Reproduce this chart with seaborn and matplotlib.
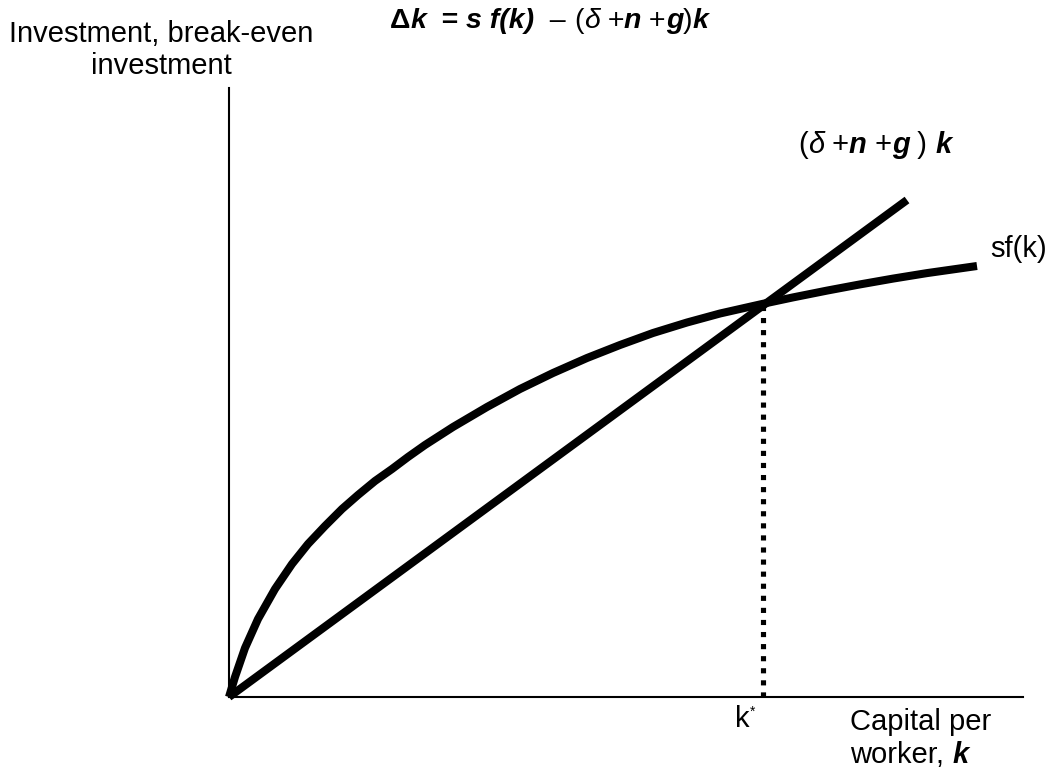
import numpy as np
import pandas as pd
import matplotlib
matplotlib.use("Agg")
import matplotlib.pyplot as plt
import seaborn as sns

# ---- data (arbitrary units, 1 unit = 100 px) ----
sf_k = [0.00, 0.06, 0.16, 0.29, 0.46, 0.63, 0.79, 0.96, 1.13, 1.29, 1.46, 1.63, 1.79,
        1.96, 2.24, 2.58, 2.91, 3.24, 3.58, 3.91, 4.24, 4.58, 4.91, 5.33, 5.64, 5.98,
        6.31, 6.64, 6.98, 7.48]
sf_y = [0.00, 0.20, 0.49, 0.78, 1.08, 1.33, 1.53, 1.71, 1.88, 2.02, 2.16, 2.28, 2.40,
        2.52, 2.70, 2.90, 3.08, 3.24, 3.39, 3.52, 3.64, 3.745, 3.835, 3.93, 3.996, 4.064,
        4.126, 4.184, 4.239, 4.31]
be_k = [0.00, 6.78]
be_y = [0.00, 4.97]
k_star = 5.34
k_star_y = 3.92
x_max = 7.94
y_max = 6.09

sns.set_theme(style="white")
plt.rcParams["font.family"] = ["Liberation Sans", "DejaVu Sans"]

W, H = 1049, 769
fig = plt.figure(figsize=(W / 100, H / 100), dpi=100)
ax = fig.add_axes([229 / W, 1 - 697 / H, (1023 - 229) / W, (697 - 88) / H])

df_sf = pd.DataFrame({"k": sf_k, "y": sf_y})
df_be = pd.DataFrame({"k": be_k, "y": be_y})
lw = 5.8
sns.lineplot(data=df_sf, x="k", y="y", color="black", linewidth=lw, sort=False,
             estimator=None, ax=ax, clip_on=False, solid_capstyle="butt",
             solid_joinstyle="round")
sns.lineplot(data=df_be, x="k", y="y", color="black", linewidth=lw, sort=False,
             estimator=None, ax=ax, clip_on=False, solid_capstyle="butt")
ax.plot([k_star, k_star], [0, k_star_y], color="black", linewidth=3.7,
        linestyle=(0, (1.0, 1.35)), dash_capstyle="butt")

ax.set_xlim(0, x_max)
ax.set_ylim(0, y_max)
ax.set_xticks([])
ax.set_yticks([])
ax.set_xlabel("")
ax.set_ylabel("")
for s in ["top", "right"]:
    ax.spines[s].set_visible(False)
for s in ["left", "bottom"]:
    ax.spines[s].set_color("black")
    ax.spines[s].set_linewidth(1.5)
ax.patch.set_alpha(0)


def fx(px):
    return px / W


def fy(py):
    return 1 - py / H


def chain(x, y, pieces, size):
    """pieces: list of (text, weight, style)"""
    t, w, st = pieces[0]
    prev = fig.text(fx(x), fy(y), t, fontsize=size, fontweight=w, fontstyle=st,
                    va="baseline", ha="left", color="black")
    for t, w, st in pieces[1:]:
        prev = ax.annotate(t, xy=(1, 0), xycoords=prev, va="bottom", ha="left",
                           fontsize=size, fontweight=w, fontstyle=st, color="black",
                           annotation_clip=False)
    return prev


N, B = "normal", "bold"
I = "italic"
FS = 21

# y-axis label
fig.text(fx(161), fy(42), "Investment, break-even", fontsize=FS, ha="center",
         va="baseline", color="black")
fig.text(fx(161), fy(74), "investment", fontsize=FS, ha="center", va="baseline",
         color="black")

# title formula
chain(390, 28, [("Δ", B, N), ("k", B, I), ("  = ", B, N), ("s f(k)", B, I),
                ("  – ", N, N), ("(", N, N), ("δ", N, I), (" +", N, N), ("n", B, I),
                (" +", N, N), ("g", B, I), (")", N, N), ("k", B, I)], 20.5)

# break-even label
chain(798, 153, [("(", N, N), ("δ", N, I), (" +", N, N), ("n", B, I), (" +", N, N),
                 ("g", B, I), (" ) ", N, N), ("k", B, I)], 21)

# sf(k) label
fig.text(fx(990), fy(257), "sf(k)", fontsize=FS, ha="left", va="baseline",
         color="black")

# k* label
kt = fig.text(fx(735), fy(727), "k", fontsize=FS, ha="left", va="baseline",
              color="black")
ax.annotate("*", xy=(1, 1), xycoords=kt, va="top", ha="left", fontsize=10,
            color="black", annotation_clip=False)

# x-axis label
fig.text(fx(850), fy(730), "Capital per", fontsize=FS, ha="left", va="baseline",
         color="black")
chain(850, 763, [("worker, ", N, N), ("k", B, I)], FS)

fig.savefig("out.png", dpi=100, facecolor="white")
